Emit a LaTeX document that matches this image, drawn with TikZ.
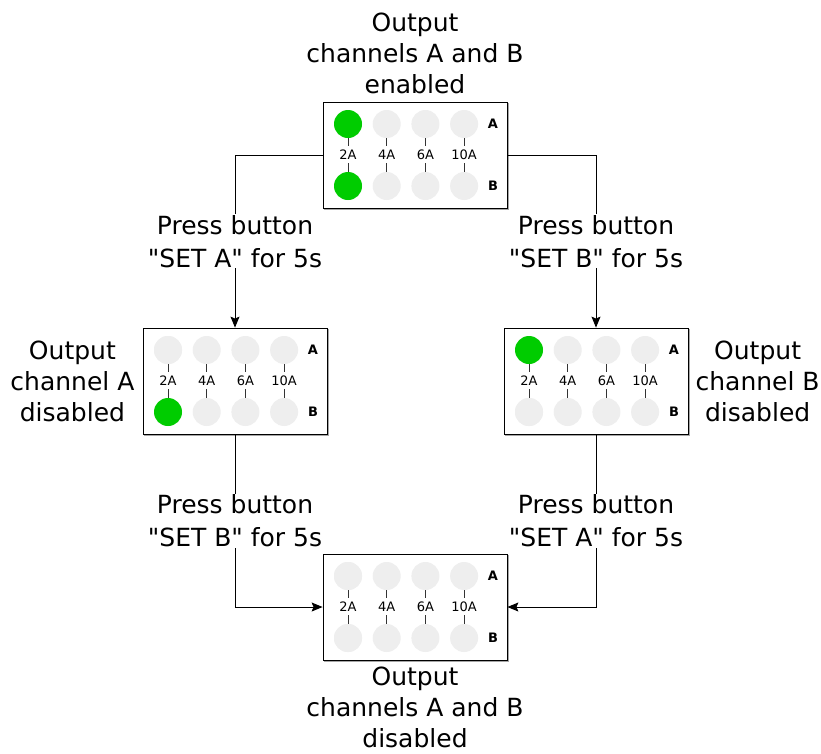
\documentclass[tikz,border=0pt]{standalone}
\usepackage{fontspec}
\setmainfont{DejaVu Sans}[Ligatures=TeXOff]
\usetikzlibrary{arrows.meta, positioning, calc, shadows}

\definecolor{ledon}{HTML}{00CC00}
\definecolor{ledoff}{HTML}{EEEEEE}

% one LED panel: name, position, colour of A-2A, colour of B-2A
\newcommand{\ledpanel}[4]{%
\node[panel] (#1) at (#2) {};
\foreach \amp [count=\i from 0] in {2A,4A,6A,10A} {
  \node[led] (#1-a\i) at ($(#1)+(-67pt+38.7pt*\i,31pt)$) {};
  \node[led] (#1-b\i) at ($(#1)+(-67pt+38.7pt*\i,-31pt)$) {};
  \node[amp] (#1-l\i) at ($(#1)+(-67pt+38.7pt*\i,0pt)$) {\amp};
  \draw[tick] (#1-a\i.south) -- ++(0,-8pt);
  \draw[tick] (#1-b\i.north) -- ++(0,9pt);
}
\node[led, fill=#3] (#1-a0) at ($(#1)+(-67pt,31pt)$) {};
\node[led, fill=#4] (#1-b0) at ($(#1)+(-67pt,-31pt)$) {};
\node[chan] (#1-A) at ($(#1)+(78pt,31pt)$) {A};
\node[chan] (#1-B) at ($(#1)+(78pt,-31pt)$) {B};
}

\begin{document}
\begin{tikzpicture}[
x=1pt, y=-1pt,
panel/.style={rectangle, draw, line width=0.8pt, minimum width=184pt, minimum height=106pt, fill=white,
  copy shadow={shadow xshift=1.2pt, shadow yshift=-1.2pt, draw=black!35, fill=black!35}},
led/.style={circle, minimum size=28pt, inner sep=0pt, fill=ledoff},
amp/.style={inner sep=0pt, font=\fontsize{13}{15}\selectfont},
chan/.style={inner sep=0pt, font=\fontsize{13}{15}\selectfont\bfseries},
tick/.style={line width=0.8pt, black!80},
caption/.style={align=center, inner sep=0pt, font=\fontsize{25}{31}\selectfont},
action/.style={align=center, fill=white, inner sep=1pt, font=\fontsize{25}{33}\selectfont},
arrow/.style={-{Stealth[length=11pt, width=9pt, inset=2pt]}, line width=0.9pt}
]
\useasboundingbox (0,0) rectangle (821,753);
\ledpanel{both}{415,155}{ledon}{ledon}
\ledpanel{offa}{235,381}{ledoff}{ledon}
\ledpanel{offb}{596,381}{ledon}{ledoff}
\ledpanel{none}{415,607}{ledoff}{ledoff}
\node[caption, above=8pt of both] (bothtxt) {Output\\channels A and B\\enabled};
\node[caption, left=8pt of offa] (offatxt) {Output\\channel A\\disabled};
\node[caption, right=7pt of offb] (offbtxt) {Output\\channel B\\disabled};
\node[caption, below=6pt of none] (nonetxt) {Output\\channels A and B\\disabled};
\draw[arrow] (both.west) -| node[action, pos=0.75] {Press button\\"SET A" for 5s} (offa.north);
\draw[arrow] (both.east) -| node[action, pos=0.75] {Press button\\"SET B" for 5s} (offb.north);
\draw[arrow] (offa.south) |- node[action, pos=0.25] {Press button\\"SET B" for 5s} (none.west);
\draw[arrow] (offb.south) |- node[action, pos=0.25] {Press button\\"SET A" for 5s} (none.east);
\end{tikzpicture}
\end{document}
